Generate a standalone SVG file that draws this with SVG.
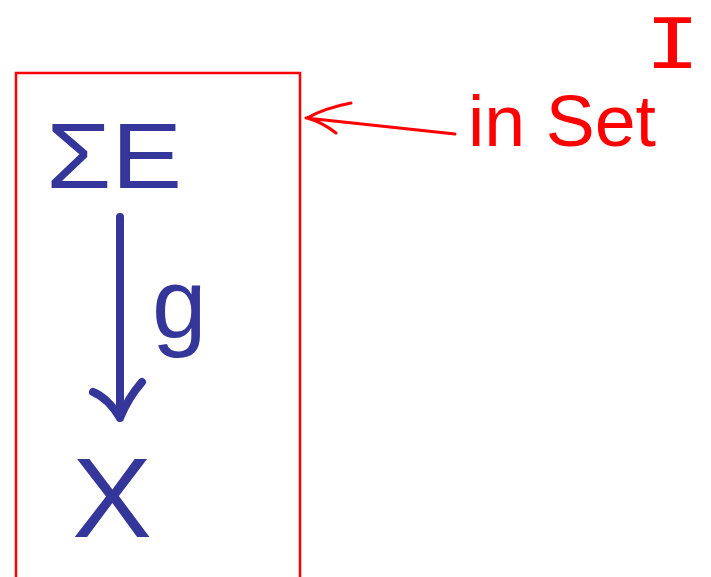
<svg xmlns="http://www.w3.org/2000/svg" width="711" height="577" viewBox="0 0 711 577">
<style>
.blue{fill:#343699;font-family:"Liberation Sans",Arial,sans-serif}
.red{fill:#ff0000;font-family:"Liberation Sans",Arial,sans-serif}
.bl{fill:none;stroke:#343699;stroke-width:8;stroke-linecap:round;stroke-linejoin:round}
.rl{fill:none;stroke:#ff0000;stroke-width:3;stroke-linecap:round;stroke-linejoin:round}
</style>
<rect width="711" height="577" fill="#ffffff"/>
<g id="box">
<rect x="16" y="73" width="284" height="520" fill="none" stroke="#ff0000" stroke-width="2.5"/>
</g>
<g id="sumE">
<text class="blue" x="46" y="188" font-size="92" textLength="136" lengthAdjust="spacingAndGlyphs">ΣE</text>
</g>
<g id="X">
<text class="blue" x="72" y="537" font-size="114" textLength="80" lengthAdjust="spacingAndGlyphs">X</text>
</g>
<g id="label-inSet">
<text class="red" x="468" y="146" font-size="72" textLength="188" lengthAdjust="spacingAndGlyphs">in Set</text>
<text x="645" y="68" font-size="70" fill="#ff0000" font-family="'DejaVu Sans Mono',monospace" textLength="55" lengthAdjust="spacingAndGlyphs">I</text>
</g>
<g id="connectors">
<g id="g-arrow">
<path class="bl" d="M120 217 L120 418 M93 392 Q108 398 120 418 Q128 398 142 382"/>
<text class="blue" x="152" y="338" font-size="98">g</text>
</g>
<g id="inset-arrow">
<path class="rl" d="M455 134 L306 118 M351 103 Q325 108 307 118 Q322 122 336 133"/>
</g>
</g>
</svg>
